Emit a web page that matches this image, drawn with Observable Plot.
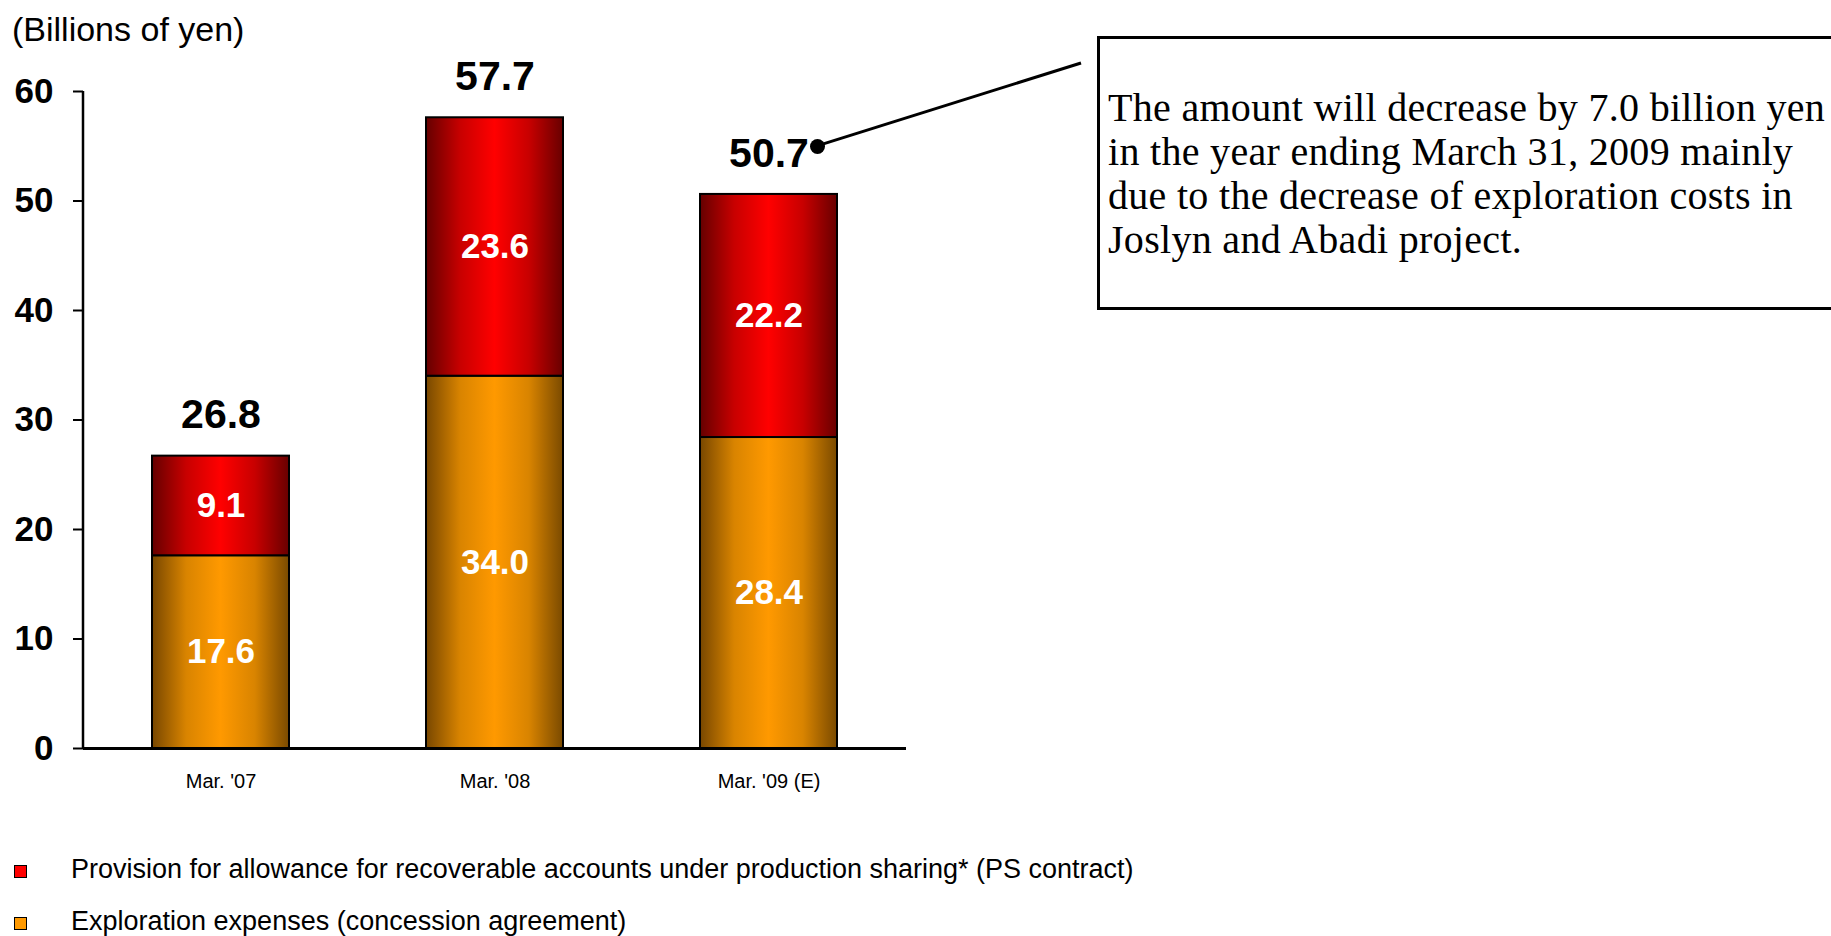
<!DOCTYPE html>
<html>
<head>
<meta charset="utf-8">
<script src="https://cdn.jsdelivr.net/npm/d3@7"></script>
<script src="https://cdn.jsdelivr.net/npm/@observablehq/plot@0.6"></script>
<style>
  html, body { margin: 0; padding: 0; background: #fff; }
  body { width: 1831px; height: 936px; overflow: hidden; position: relative; font-family: "Liberation Sans", Arial, sans-serif; color: #000; }
  #title { height: 50px; box-sizing: border-box; padding-top: 13px; padding-left: 12px; font-size: 34px; line-height: 33px; }
  #chart svg { display: block; }
  #legend { padding-top: 16px; }
  .row { display: flex; align-items: center; height: 27px; font-size: 27px; line-height: 27px; white-space: nowrap; }
  .row + .row { margin-top: 25px; }
  .sw { width: 11px; height: 11px; border: 1.5px solid #000; margin-left: 14px; margin-top: 3px; flex: none; }
  .row span { margin-left: 44px; }
  #note { position: absolute; left: 1097px; top: 36px; width: 800px; height: 274px; box-sizing: border-box; border: 3px solid #000; padding-left: 8px; padding-top: 47px; font-family: "Liberation Serif", "Times New Roman", serif; font-size: 40px; line-height: 44px; letter-spacing: 0.3px; white-space: nowrap; background: #fff; }
</style>
</head>
<body>
<div id="title">(Billions of yen)</div>
<div id="chart"></div>
<div id="legend"></div>
<div id="note">The amount will decrease by 7.0 billion yen<br>in the year ending March 31, 2009 mainly<br>due to the decrease of exploration costs in<br>Joslyn and Abadi project.</div>
<script>
// ---- data ----
const periods = ["Mar. '07", "Mar. '08", "Mar. '09 (E)"];
const exploration = [17.6, 34.0, 28.4];
const provision = [9.1, 23.6, 22.2];
const totals = [26.8, 57.7, 50.7];
const seriesNames = [
  "Exploration expenses (concession agreement)",
  "Provision for allowance for recoverable accounts under production sharing* (PS contract)"
];
const yTicks = [0, 10, 20, 30, 40, 50, 60];
const legendOrder = [1, 0];

// ---- derived tables ----
const rows = periods.flatMap((p, i) => [
  {period: p, series: seriesNames[0], value: exploration[i]},
  {period: p, series: seriesNames[1], value: provision[i]}
]);
const tops = periods.map((p, i) => ({period: p, top: exploration[i] + provision[i], label: totals[i].toFixed(1)}));

const gradIds = ["gradOrange", "gradRed"];
const swatchColors = ["#ff9900", "#ff0000"];
const ns = "http://www.w3.org/2000/svg";

const defsMark = () => {
  const defs = document.createElementNS(ns, "defs");
  defs.innerHTML =
    `<linearGradient id="gradOrange" x1="0" x2="1" y1="0" y2="0">
       <stop offset="0" stop-color="#784700"/>
       <stop offset="0.25" stop-color="#d98400"/>
       <stop offset="0.5" stop-color="#ff9900"/>
       <stop offset="0.75" stop-color="#d98400"/>
       <stop offset="1" stop-color="#7a4a00"/>
     </linearGradient>
     <linearGradient id="gradRed" x1="0" x2="1" y1="0" y2="0">
       <stop offset="0" stop-color="#650000"/>
       <stop offset="0.25" stop-color="#c80000"/>
       <stop offset="0.5" stop-color="#ff0000"/>
       <stop offset="0.75" stop-color="#c80000"/>
       <stop offset="1" stop-color="#680000"/>
     </linearGradient>`;
  return defs;
};

// vertical y-axis line along the left edge of the frame
const axisLineMark = (index, scales, values, dims) => {
  const line = document.createElementNS(ns, "line");
  line.setAttribute("x1", dims.marginLeft);
  line.setAttribute("x2", dims.marginLeft);
  line.setAttribute("y1", dims.marginTop);
  line.setAttribute("y2", dims.height - dims.marginBottom);
  line.setAttribute("stroke", "#000");
  line.setAttribute("stroke-width", 2.5);
  return line;
};

const last = tops[tops.length - 1];
const leaderMark = (index, scales) => {
  const xs = scales.x, ys = scales.y;
  const bw = xs.bandwidth ? xs.bandwidth() : (scales.scales && scales.scales.x ? scales.scales.x.bandwidth : 0);
  const line = document.createElementNS(ns, "line");
  line.setAttribute("x1", xs(last.period) + bw / 2 + 48.5);
  line.setAttribute("y1", ys(last.top) - 48);
  line.setAttribute("x2", 1081);
  line.setAttribute("y2", 13);
  line.setAttribute("stroke", "#000");
  line.setAttribute("stroke-width", 3);
  return line;
};

const chart = Plot.plot({
  width: 1831,
  height: 790,
  marginTop: 41,
  marginBottom: 92,
  marginLeft: 83,
  marginRight: 925,
  style: {fontFamily: "'Liberation Sans', Arial, sans-serif", color: "#000", background: "#fff", overflow: "visible"},
  x: {domain: periods, paddingInner: 0.5, paddingOuter: 0.25},
  y: {domain: [0, 60]},
  color: {domain: seriesNames, range: gradIds.map(id => `url(#${id})`)},
  marks: [
    defsMark,
    Plot.barY(rows, {x: "period", y: "value", fill: "series", stroke: "#000", strokeWidth: 2}),
    Plot.text(rows, Plot.stackY({x: "period", y: "value", text: d => d.value.toFixed(1), fill: "#fff", fontWeight: "bold", fontSize: 35})),
    Plot.ruleY([0], {stroke: "#000", strokeWidth: 3}),
    axisLineMark,
    Plot.axisY({ticks: yTicks, tickFormat: d => String(d), tickSize: 10, tickPadding: 20, fontSize: 35, fontWeight: "bold", label: null, strokeWidth: 2}),
    Plot.axisX({tickSize: 0, tickPadding: 25, fontSize: 20, label: null}),
    Plot.text(tops, {x: "period", y: "top", text: "label", dy: -41, fontSize: 41, fontWeight: "bold", fill: "#000"}),
    Plot.dot([last], {x: "period", y: "top", dx: 48.5, dy: -48, r: 7.5, fill: "#000", stroke: "none"}),
    leaderMark
  ]
});
document.getElementById("chart").appendChild(chart);

const legend = document.getElementById("legend");
legendOrder.forEach(i => {
  const row = document.createElement("div");
  row.className = "row";
  const sw = document.createElement("div");
  sw.className = "sw";
  sw.style.background = swatchColors[i];
  const label = document.createElement("span");
  label.textContent = seriesNames[i];
  row.appendChild(sw);
  row.appendChild(label);
  legend.appendChild(row);
});
</script>
</body>
</html>
